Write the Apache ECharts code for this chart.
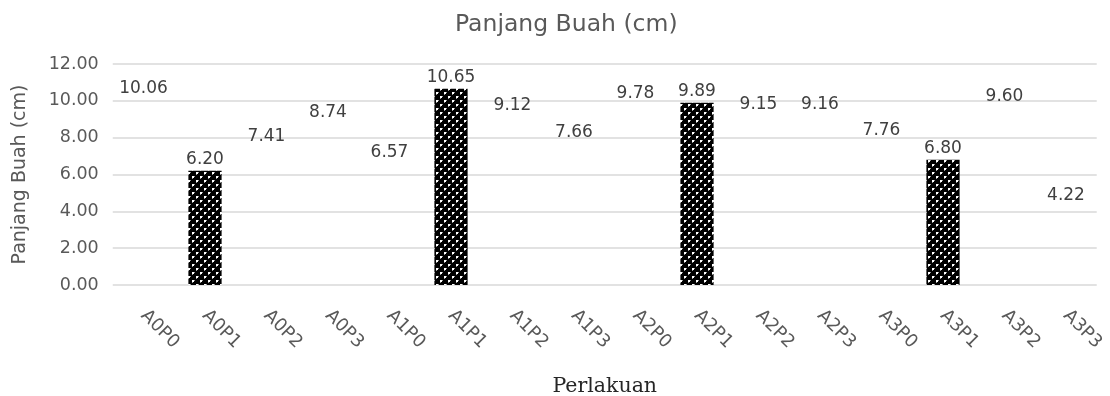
<!DOCTYPE html>
<html>
<head>
<meta charset="utf-8">
<script src="https://cdn.jsdelivr.net/npm/echarts@6/dist/echarts.min.js"></script>
<style>
  html, body { margin: 0; padding: 0; background: #fff; }
  #chart { width: 1110px; height: 396px; }
</style>
</head>
<body>
<div id="chart"></div>
<script>
const categories = ['A0P0','A0P1','A0P2','A0P3','A1P0','A1P1','A1P2','A1P3',
                    'A2P0','A2P1','A2P2','A2P3','A3P0','A3P1','A3P2','A3P3'];
const values = [10.06, 6.20, 7.41, 8.74, 6.57, 10.65, 9.12, 7.66,
                9.78, 9.89, 9.15, 9.16, 7.76, 6.80, 9.60, 4.22];
const yTicks = { min: 0, max: 12, interval: 2 };
const titleText = 'Panjang Buah (cm)';
const yName = 'Panjang Buah (cm)';
const xName = 'Perlakuan';

// checkered pattern tile
const tile = document.createElement('canvas');
tile.width = 8; tile.height = 8;
const c = tile.getContext('2d');
c.fillStyle = '#000'; c.fillRect(0, 0, 8, 8);
c.fillStyle = '#fff';
c.fillRect(0, 0, 2, 2);
c.fillRect(4, 4, 2, 2);
c.fillStyle = '#9a9a9a';
c.fillRect(2, 0, 1, 1); c.fillRect(0, 2, 1, 1);
c.fillRect(6, 4, 1, 1); c.fillRect(4, 6, 1, 1);

const data = values.map((v, i) => ({
  value: v,
  itemStyle: categories[i].endsWith('P1')
    ? { color: { image: tile, repeat: 'repeat' } }
    : { color: 'rgba(255,255,255,0)' }
}));

const chart = echarts.init(document.getElementById('chart'), null, { renderer: 'canvas' });
chart.setOption({
  animation: false,
  backgroundColor: '#fff',
  title: {
    text: titleText,
    left: 450, top: 8,
    textStyle: { fontFamily: 'DejaVu Sans', fontSize: 23.5, fontWeight: 'normal', color: '#595959' }
  },
  grid: { left: 112.75, right: 13.25, top: 64, bottom: 111, containLabel: false, outerBoundsMode: 'none' },
  xAxis: {
    type: 'category',
    data: categories,
    name: xName,
    nameLocation: 'middle',
    nameGap: 91,
    nameTextStyle: { fontFamily: 'DejaVu Serif', fontSize: 20.5, color: '#262626' },
    axisLine: { show: false },
    axisTick: { show: false },
    axisLabel: {
      rotate: -45, margin: 28, interval: 0, hideOverlap: false,
      fontFamily: 'DejaVu Sans', fontSize: 18, color: '#595959'
    }
  },
  yAxis: {
    type: 'value',
    min: yTicks.min, max: yTicks.max, interval: yTicks.interval,
    name: yName,
    nameLocation: 'middle',
    nameGap: 83,
    nameTextStyle: { fontFamily: 'DejaVu Sans', fontSize: 19, color: '#595959' },
    axisLine: { show: false },
    axisTick: { show: false },
    splitLine: { lineStyle: { color: '#d9d9d9', width: 1.5 } },
    axisLabel: {
      margin: 14,
      formatter: v => v.toFixed(2),
      fontFamily: 'DejaVu Sans', fontSize: 17.5, color: '#595959'
    }
  },
  series: [{
    type: 'bar',
    data: data,
    barCategoryGap: '46%',
    label: {
      show: true, position: 'top', distance: 3,
      formatter: p => p.value.toFixed(2),
      fontFamily: 'DejaVu Sans', fontSize: 17, color: '#404040'
    }
  }]
});
</script>
</body>
</html>
